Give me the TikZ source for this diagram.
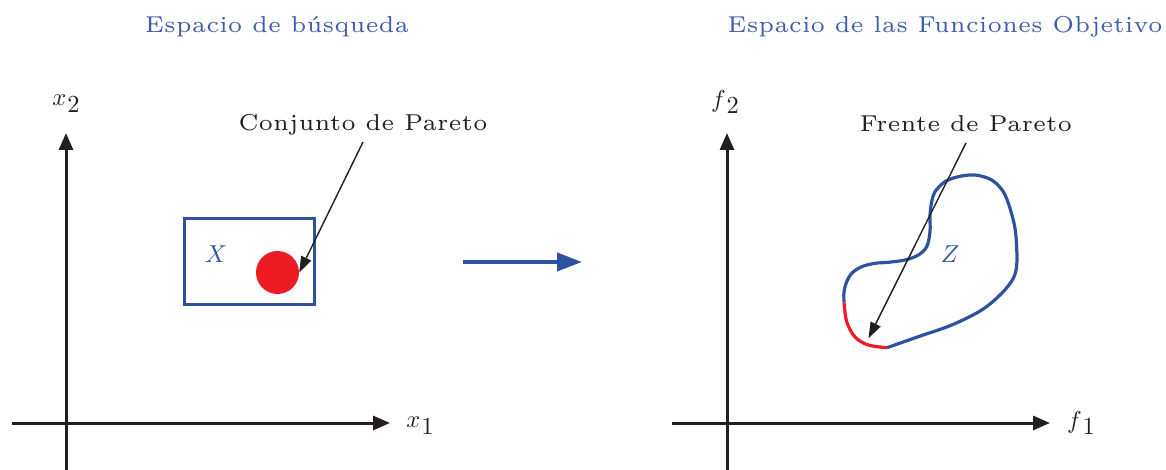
\documentclass[tikz,border=0pt]{standalone}
\usepackage{fontspec}
\newfontfamily\lmsix[LetterSpace=2]{lmroman6-regular.otf}
\usetikzlibrary{arrows.meta}
\definecolor{myblue}{RGB}{46,82,160}
\definecolor{titleblue}{RGB}{62,92,170}
\definecolor{myred}{RGB}{237,28,36}
\definecolor{myblack}{RGB}{35,31,32}
\newcommand\axlab[2]{\raisebox{2.8pt}{$#1$}\kern0.4pt$#2$}
\begin{document}
\begin{tikzpicture}[x=1pt,y=-1pt,
  txt/.style={font=\lmsix\fontsize{23}{27}\selectfont, inner sep=0pt, anchor=base, text=myblack},
  title/.style={txt, text=titleblue},
  axlabel/.style={scale=2.45, inner sep=0pt, text=myblack},
  setlabel/.style={scale=2.45, inner sep=0pt, anchor=base, text=myblue},
  axis/.style={draw=myblack, line width=3pt, -{Triangle[length=17pt,width=14pt]}},
  pointer/.style={draw=myblack, line width=1.4pt, -{Triangle[length=16pt,width=11pt]}},
  maparrow/.style={draw=myblue, line width=4pt, -{Triangle[length=25pt,width=18pt]}},
  region/.style={draw=myblue, line width=3pt, rectangle, minimum width=130pt, minimum height=85pt, inner sep=0pt},
  frontier/.style={line width=3.2pt, line join=round}
]
\useasboundingbox (0,0) rectangle (1166,470);
% titles
\node[title] (t1) at (277,33) {Espacio de búsqueda};
\node[title] (t2) at (945,33) {Espacio de las Funciones Objetivo};
% left axes
\coordinate (lo1) at (66,470);
\coordinate (lo2) at (66,133);
\coordinate (lh1) at (12,423);
\coordinate (lh2) at (390,423);
\draw[axis] (lo1) -- (lo2);
\draw[axis] (lh1) -- (lh2);
\node[axlabel] (x2) at (66,104) {\axlab{x}{2}};
\node[axlabel] (x1) at (420,426) {\axlab{x}{1}};
% decision space
\node[region] (Xbox) at (249,261.5) {};
\node[setlabel] (Xlab) at (216,262) {$X$};
\node[circle, fill=myred, minimum size=43pt, inner sep=0pt] (pset) at (277.5,272.5) {};
\node[txt] (cj) at (363,131) {Conjunto de Pareto};
\coordinate (cjs) at (363,142);
\draw[pointer] (cjs) -- (pset.east);
% mapping arrow
\coordinate (ma) at (463,262);
\coordinate (mb) at (582,262);
\draw[maparrow] (ma) -- (mb);
% right axes
\coordinate (ro1) at (727,470);
\coordinate (ro2) at (727,133);
\coordinate (rh1) at (672,423);
\coordinate (rh2) at (1050,423);
\draw[axis] (ro1) -- (ro2);
\draw[axis] (rh1) -- (rh2);
\node[axlabel] (f2) at (725,102) {\axlab{f}{2}};
\node[axlabel] (f1) at (1081,423) {\axlab{f}{1}};
% objective space
\draw[frontier, draw=myblue] plot[smooth, tension=0.55] coordinates {(887,347.7) (918.3,336.7) (951.7,325) (981.7,310) (1001.7,293.3) (1013.3,278.3) (1016.7,265) (1016.7,248.3) (1015,228.3) (1010,208.3) (1003.3,191.7) (991.7,180) (975,175) (958.3,176.7) (945,181.7) (935,191.7) (931.7,201.7) (930,215) (930,231.7) (926.7,246.7) (918.3,255) (905,260) (888.3,262.3) (875,263.3) (861.7,266.7) (851.7,273.3) (846.7,281.7) (844,291.7) (844,302.3)};
\draw[frontier, draw=myred] plot[smooth, tension=0.55] coordinates {(844,302.3) (846.7,321.7) (855,337) (868.3,345) (887,347.7)};
\node[setlabel] (Zlab) at (950,262) {$Z$};
\node[txt] (fp) at (966,132) {Frente de Pareto};
\coordinate (fps) at (966,143);
\coordinate (fpt) at (868.5,338.3);
\draw[pointer] (fps) -- (fpt);
\end{tikzpicture}
\end{document}
